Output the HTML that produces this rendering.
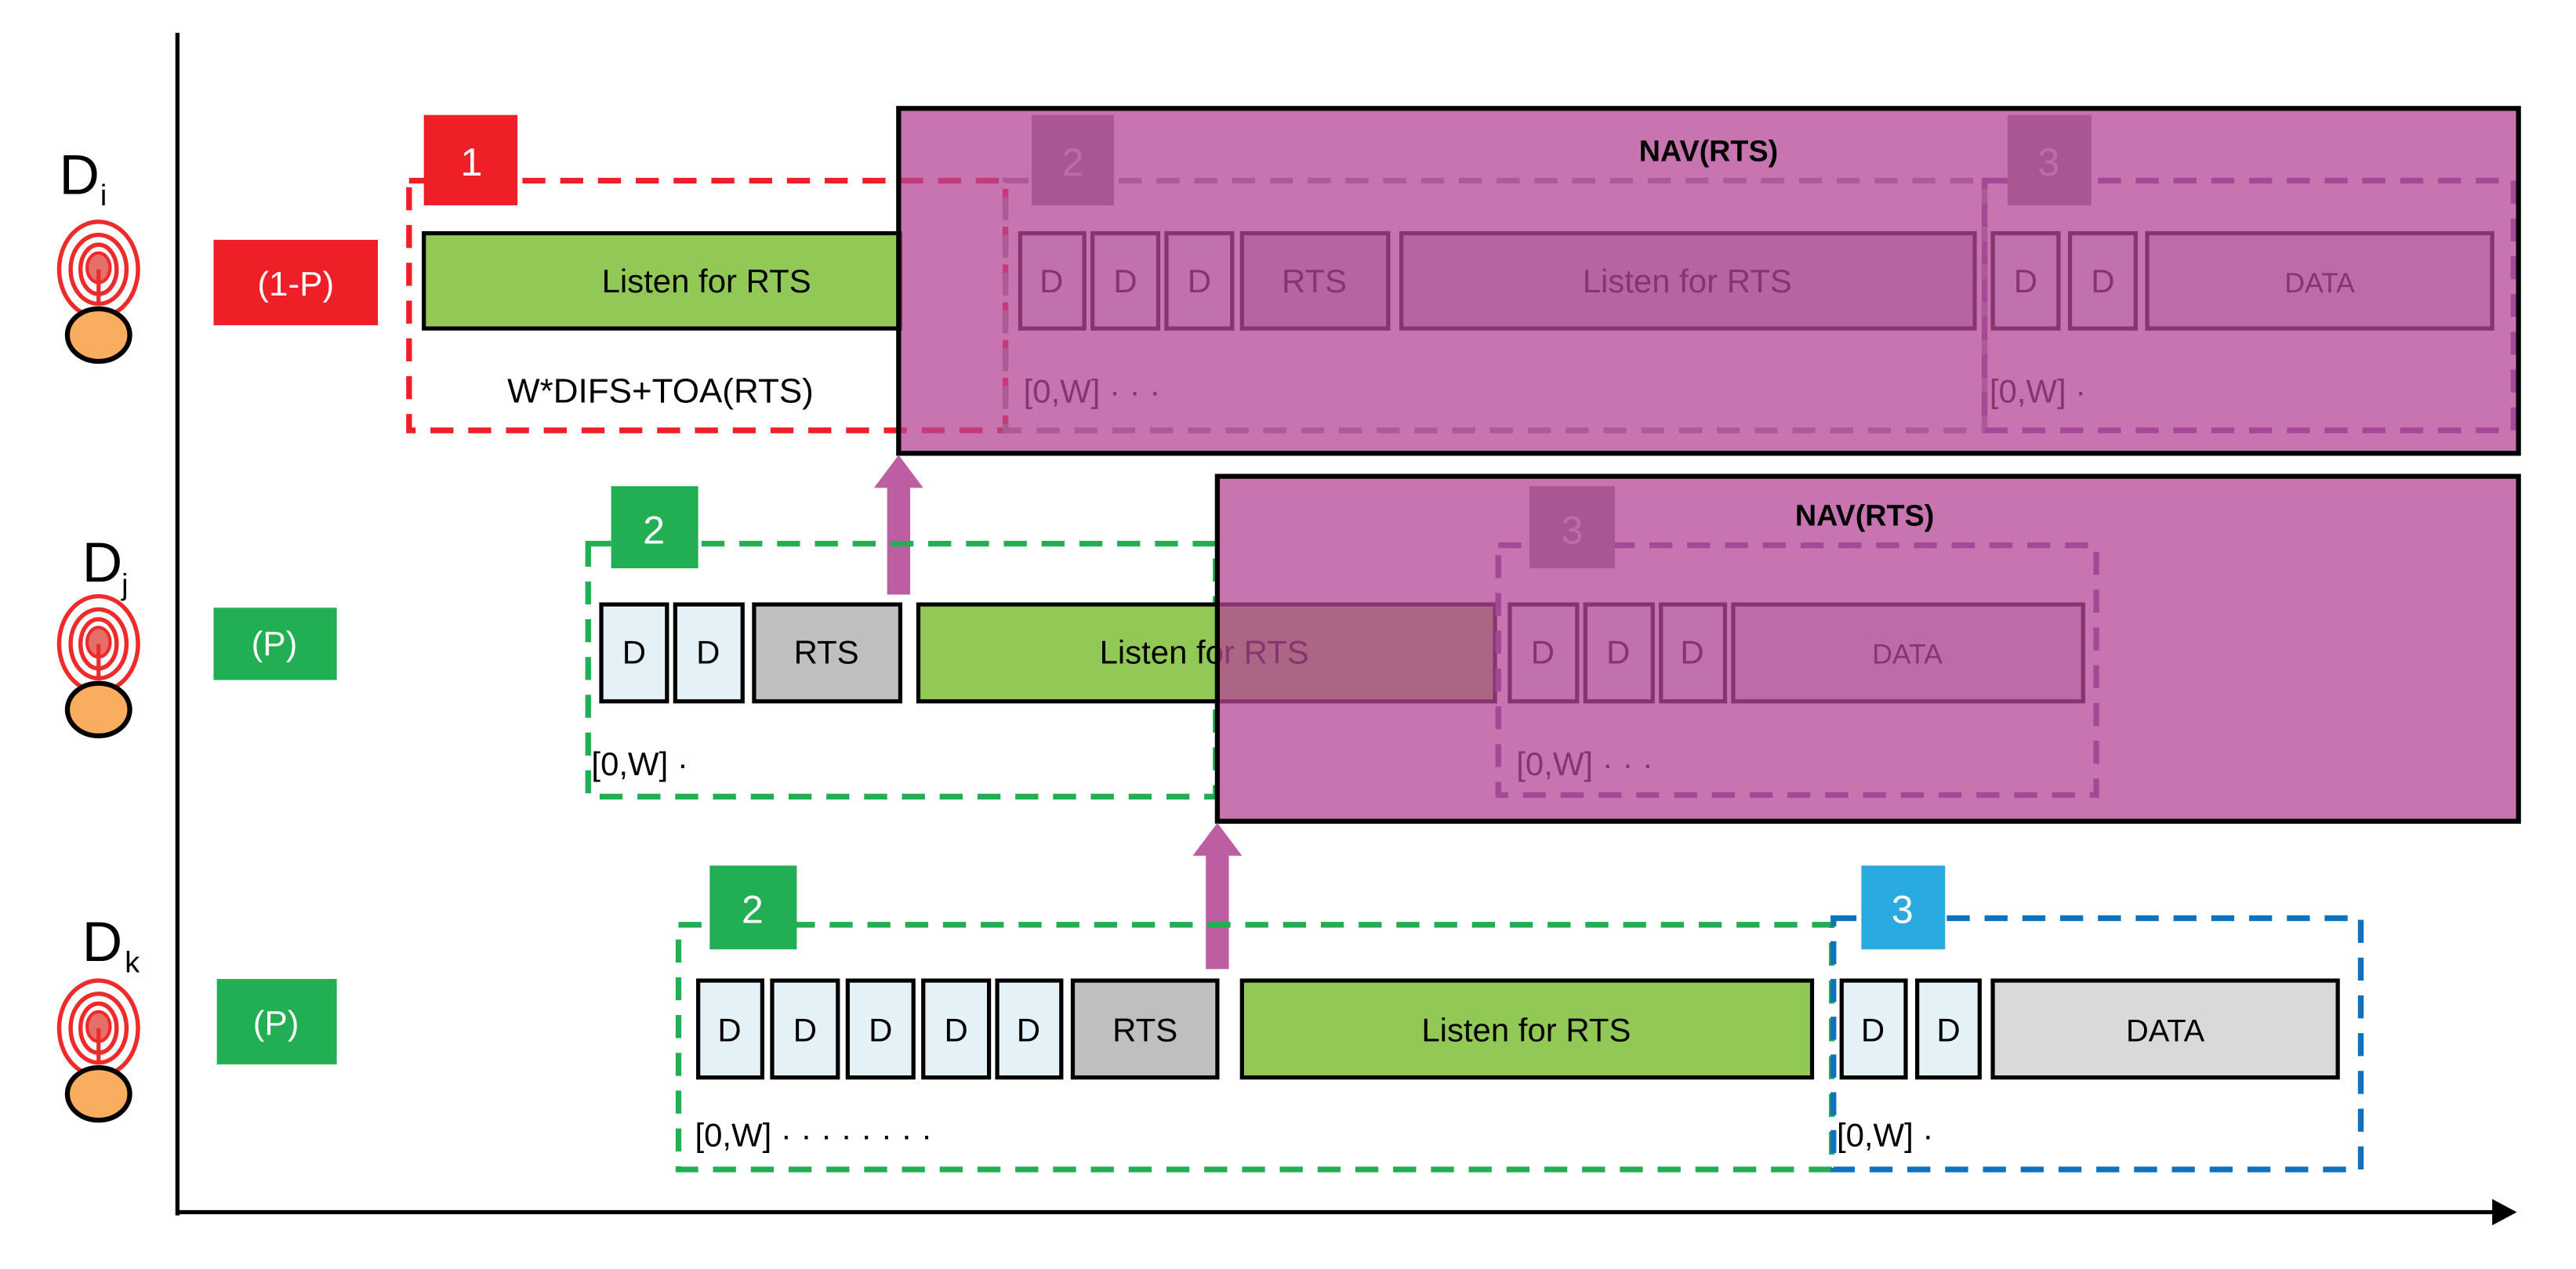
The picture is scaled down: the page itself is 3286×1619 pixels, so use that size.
<!DOCTYPE html>
<html><head><meta charset="utf-8"><style>
html,body{margin:0;padding:0;background:#fff;}
svg{display:block;}
text{font-family:"Liberation Sans",Arial,sans-serif;}
</style></head><body>
<svg width="3286" height="1619" viewBox="0 0 1568 772.6" preserveAspectRatio="none" xmlns="http://www.w3.org/2000/svg">
<defs>
<g id="ant">
  <ellipse cx="0" cy="0" rx="24" ry="29" fill="none" stroke="#ee2a2a" stroke-width="2.6"/>
  <ellipse cx="0" cy="0" rx="17" ry="21" fill="none" stroke="#ee2a2a" stroke-width="2.6"/>
  <ellipse cx="0" cy="0" rx="11" ry="15" fill="none" stroke="#ee2a2a" stroke-width="2.6"/>
  <ellipse cx="0" cy="-1" rx="7" ry="9" fill="#e5706a" stroke="#ee2a2a" stroke-width="2"/>
  <line x1="0" y1="0" x2="0" y2="22" stroke="#ee2a2a" stroke-width="2.5"/>
  <ellipse cx="0" cy="40" rx="19" ry="16" fill="#f9ad5e" stroke="#000" stroke-width="3"/>
</g>
</defs>

<!-- axes -->
<line x1="108" y1="20" x2="108" y2="740" stroke="#000" stroke-width="2.5"/>
<line x1="108" y1="738" x2="1520" y2="738" stroke="#000" stroke-width="2.5"/>
<polygon points="1517,730 1532,738 1517,746" fill="#000"/>

<!-- device labels -->
<text x="36" y="118" font-size="34">D</text><text x="61" y="125" font-size="18">i</text>
<use href="#ant" x="60" y="164"/>
<text x="50" y="354" font-size="34">D</text><text x="74" y="362" font-size="18">j</text>
<use href="#ant" x="60" y="392"/>
<text x="50" y="585" font-size="34">D</text><text x="76" y="592" font-size="18">k</text>
<use href="#ant" x="60" y="626"/>

<!-- probability boxes -->
<rect x="130" y="146" width="100" height="52" fill="#ee1f26"/>
<text x="180" y="180" font-size="21" fill="#fff" text-anchor="middle">(1-P)</text>
<rect x="130" y="370" width="75" height="44" fill="#22ae52"/>
<text x="167" y="399" font-size="21" fill="#fff" text-anchor="middle">(P)</text>
<rect x="132" y="596" width="73" height="52" fill="#22ae52"/>
<text x="168" y="630" font-size="21" fill="#fff" text-anchor="middle">(P)</text>

<g font-size="20" text-anchor="middle" stroke-width="2.5">
<!-- ROW 1 -->
<rect x="249" y="110" width="363" height="152" fill="none" stroke="#ee1f26" stroke-width="3.5" stroke-dasharray="14 9"/>
<rect x="258" y="70" width="57" height="55" fill="#ee1f26"/>
<text x="287" y="107" font-size="24" fill="#fff">1</text>
<rect x="258" y="142" width="290" height="58" fill="#92c855" stroke="#000"/>
<text x="430" y="178">Listen for RTS</text>
<text x="402" y="245" font-size="21">W*DIFS+TOA(RTS)</text>

<rect x="612" y="110" width="596" height="152" fill="none" stroke="#999" stroke-width="3.5" stroke-dasharray="14 9"/>
<rect x="628" y="70" width="50" height="55" fill="#888"/>
<text x="653" y="107" font-size="24" fill="#ddd">2</text>
<rect x="621" y="142" width="39" height="58" fill="#e4f1f7" stroke="#000"/><text x="640" y="178">D</text>
<rect x="665" y="142" width="40" height="58" fill="#e4f1f7" stroke="#000"/><text x="685" y="178">D</text>
<rect x="710" y="142" width="40" height="58" fill="#e4f1f7" stroke="#000"/><text x="730" y="178">D</text>
<rect x="756" y="142" width="89" height="58" fill="#bfbfbf" stroke="#000"/><text x="800" y="178">RTS</text>
<rect x="853" y="142" width="349" height="58" fill="#bfbfbf" stroke="#000"/><text x="1027" y="178">Listen for RTS</text>
<text x="623" y="245" font-size="20" text-anchor="start">[0,W]  · · ·</text>

<rect x="1208" y="110" width="322" height="152" fill="none" stroke="#7b4fa0" stroke-width="3.5" stroke-dasharray="14 9"/>
<rect x="1222" y="70" width="51" height="55" fill="#888"/>
<text x="1247" y="107" font-size="24" fill="#ddd">3</text>
<rect x="1213" y="142" width="40" height="58" fill="#e4f1f7" stroke="#000"/><text x="1233" y="178">D</text>
<rect x="1260" y="142" width="40" height="58" fill="#e4f1f7" stroke="#000"/><text x="1280" y="178">D</text>
<rect x="1307" y="142" width="210" height="58" fill="#d9d9db" stroke="#000"/><text x="1412" y="178" font-size="17">DATA</text>
<text x="1211" y="245" text-anchor="start">[0,W]  ·</text>

<rect x="547" y="66" width="986" height="210" fill="rgb(180,70,150)" fill-opacity="0.75" stroke="#000" stroke-width="3"/>
<text x="1040" y="98" font-size="18" font-weight="bold">NAV(RTS)</text>

<!-- arrow 1 -->
<rect x="540" y="296" width="14" height="66" fill="#bd5ea3"/>
<polygon points="532,297 562,297 547,277" fill="#bd5ea3"/>

<!-- ROW 2 -->
<rect x="358" y="331" width="382" height="154" fill="none" stroke="#22ae52" stroke-width="3.5" stroke-dasharray="14 9"/>
<rect x="372" y="296" width="53" height="50" fill="#22ae52"/>
<text x="398" y="331" font-size="24" fill="#fff">2</text>
<rect x="366" y="368" width="40" height="59" fill="#e4f1f7" stroke="#000"/><text x="386" y="404">D</text>
<rect x="411" y="368" width="41" height="59" fill="#e4f1f7" stroke="#000"/><text x="431" y="404">D</text>
<rect x="459" y="368" width="89" height="59" fill="#bfbfbf" stroke="#000"/><text x="503" y="404">RTS</text>
<rect x="559" y="368" width="351" height="59" fill="#92c855" stroke="#000"/><text x="733" y="404">Listen for RTS</text>
<text x="360" y="472" text-anchor="start">[0,W]  ·</text>

<rect x="912" y="332" width="364" height="152" fill="none" stroke="#7b4fa0" stroke-width="3.5" stroke-dasharray="14 9"/>
<rect x="931" y="296" width="52" height="50" fill="#888"/>
<text x="957" y="331" font-size="24" fill="#ddd">3</text>
<rect x="919" y="368" width="41" height="59" fill="#e4f1f7" stroke="#000"/><text x="939" y="404">D</text>
<rect x="965" y="368" width="41" height="59" fill="#e4f1f7" stroke="#000"/><text x="985" y="404">D</text>
<rect x="1011" y="368" width="39" height="59" fill="#e4f1f7" stroke="#000"/><text x="1030" y="404">D</text>
<rect x="1055" y="368" width="213" height="59" fill="#d9d9db" stroke="#000"/><text x="1161" y="404" font-size="17">DATA</text>
<text x="923" y="472" text-anchor="start">[0,W]  · · ·</text>

<rect x="741" y="290" width="792" height="210" fill="rgb(180,70,150)" fill-opacity="0.75" stroke="#000" stroke-width="3"/>
<text x="1135" y="320" font-size="18" font-weight="bold">NAV(RTS)</text>

<!-- arrow 2 -->
<rect x="734" y="520" width="14" height="70" fill="#bd5ea3"/>
<polygon points="726,521 756,521 741,501" fill="#bd5ea3"/>

<!-- ROW 3 -->
<rect x="413" y="563" width="702" height="149" fill="none" stroke="#22ae52" stroke-width="3.5" stroke-dasharray="14 9"/>
<rect x="432" y="527" width="53" height="51" fill="#22ae52"/>
<text x="458" y="562" font-size="24" fill="#fff">2</text>
<rect x="425" y="597" width="39" height="59" fill="#e4f1f7" stroke="#000"/><text x="444" y="634">D</text>
<rect x="470" y="597" width="40" height="59" fill="#e4f1f7" stroke="#000"/><text x="490" y="634">D</text>
<rect x="516" y="597" width="40" height="59" fill="#e4f1f7" stroke="#000"/><text x="536" y="634">D</text>
<rect x="562" y="597" width="40" height="59" fill="#e4f1f7" stroke="#000"/><text x="582" y="634">D</text>
<rect x="607" y="597" width="39" height="59" fill="#e4f1f7" stroke="#000"/><text x="626" y="634">D</text>
<rect x="653" y="597" width="88" height="59" fill="#bfbfbf" stroke="#000"/><text x="697" y="634">RTS</text>
<rect x="756" y="597" width="347" height="59" fill="#92c855" stroke="#000"/><text x="929" y="634">Listen for RTS</text>
<text x="423" y="698" text-anchor="start">[0,W]  · · · · · · · ·</text>

<rect x="1116" y="559" width="321" height="153" fill="none" stroke="#1271bb" stroke-width="3.5" stroke-dasharray="14 9"/>
<rect x="1133" y="527" width="51" height="51" fill="#29abe2"/>
<text x="1158" y="562" font-size="24" fill="#fff">3</text>
<rect x="1121" y="597" width="39" height="59" fill="#e4f1f7" stroke="#000"/><text x="1140" y="634">D</text>
<rect x="1167" y="597" width="38" height="59" fill="#e4f1f7" stroke="#000"/><text x="1186" y="634">D</text>
<rect x="1213" y="597" width="210" height="59" fill="#d9d9db" stroke="#000"/><text x="1318" y="634" font-size="19">DATA</text>
<text x="1118" y="698" text-anchor="start">[0,W]  ·</text>
</g>
</svg>
</body></html>
